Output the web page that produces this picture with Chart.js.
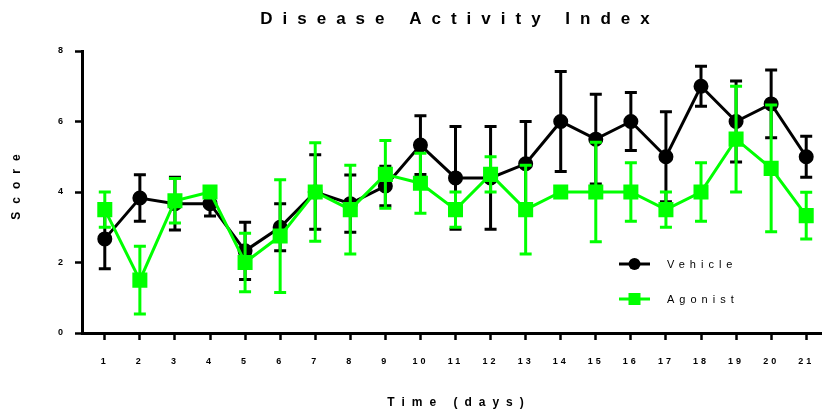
<!DOCTYPE html>
<html>
<head>
<meta charset="utf-8">
<script src="https://cdn.jsdelivr.net/npm/chart.js@4.4.0/dist/chart.umd.min.js"></script>
<style>
  html, body { margin: 0; padding: 0; background: #fff; }
  #wrap { width: 822px; height: 412px; }
</style>
</head>
<body>
<div id="wrap"><canvas id="chart"></canvas></div>
<script>
const days = [1, 2, 3, 4, 5, 6, 7, 8, 9, 10, 11, 12, 13, 14, 15, 16, 17, 18, 19, 20, 21];
const vehicleMean = [2.67, 3.83, 3.67, 3.67, 2.33, 3.0, 4.0, 3.67, 4.17, 5.33, 4.4, 4.4, 4.8, 6.0, 5.5, 6.0, 5.0, 7.0, 6.0, 6.5, 5.0];
const vehicleErr = [0.85, 0.66, 0.75, 0.35, 0.81, 0.67, 1.06, 0.81, 0.56, 0.83, 1.46, 1.46, 1.2, 1.42, 1.27, 0.82, 1.28, 0.57, 1.15, 0.96, 0.58];
const agonistMean = [3.5, 1.5, 3.75, 4.0, 2.0, 2.75, 4.0, 3.5, 4.5, 4.25, 3.5, 4.5, 3.5, 4.0, 4.0, 4.0, 3.5, 4.0, 5.5, 4.67, 3.33];
const agonistErr = [0.5, 0.96, 0.63, 0, 0.83, 1.6, 1.4, 1.26, 0.96, 0.85, 0.5, 0.5, 1.26, 0, 1.41, 0.83, 0.5, 0.83, 1.5, 1.8, 0.66];
const yTicks = [0, 2, 4, 6, 8];

const GREEN = '#00ff00';
const FONT = '"Liberation Sans", Arial, sans-serif';

// error bars drawn just under each dataset's line
const errorBars = {
    id: 'errorBars',
    beforeDatasetDraw(chart, args) {
        const ds = chart.data.datasets[args.index];
        const ctx = chart.ctx;
        const x = chart.scales.x, y = chart.scales.y;
        ctx.save();
        ctx.strokeStyle = ds.borderColor;
        ctx.lineWidth = 3;
        ds.data.forEach((p, i) => {
            const e = ds.errors[i];
            if (!e) return;
            const px = x.getPixelForValue(p.x);
            const top = y.getPixelForValue(p.y + e);
            const bot = y.getPixelForValue(p.y - e);
            ctx.beginPath();
            ctx.moveTo(px, top); ctx.lineTo(px, bot);
            ctx.moveTo(px - 6, top); ctx.lineTo(px + 6, top);
            ctx.moveTo(px - 6, bot); ctx.lineTo(px + 6, bot);
            ctx.stroke();
        });
        ctx.restore();
    }
};

// spaced-out titles and the legend
const spacedText = {
    id: 'spacedText',
    beforeDraw(chart) { chart.ctx.letterSpacing = '3px'; },
    afterDraw(chart) {
        const ctx = chart.ctx;
        ctx.save();
        ctx.fillStyle = '#000';
        ctx.textBaseline = 'middle';
        ctx.textAlign = 'center';

        ctx.letterSpacing = '10px';
        ctx.font = 'bold 17px ' + FONT;
        ctx.fillText('Disease Activity Index', 460, 19);

        ctx.letterSpacing = '7px';
        ctx.font = 'bold 12px ' + FONT;
        ctx.fillText('Time (days)', 459, 403);

        ctx.save();
        ctx.translate(17, 187);
        ctx.rotate(-Math.PI / 2);
        ctx.letterSpacing = '8px';
        ctx.fillText('Score', 4, 0);
        ctx.restore();

        // legend
        ctx.textAlign = 'left';
        ctx.letterSpacing = '5px';
        ctx.font = '11px ' + FONT;
        const rows = [
            { label: 'Vehicle', color: '#000', shape: 'circle', y: 264 },
            { label: 'Agonist', color: GREEN, shape: 'square', y: 299 }
        ];
        rows.forEach(r => {
            ctx.strokeStyle = r.color;
            ctx.fillStyle = r.color;
            ctx.lineWidth = 3;
            ctx.beginPath();
            ctx.moveTo(619, r.y); ctx.lineTo(650, r.y);
            ctx.stroke();
            ctx.beginPath();
            if (r.shape === 'circle') ctx.arc(634.5, r.y, 6, 0, Math.PI * 2);
            else ctx.rect(628.5, r.y - 6, 12, 12);
            ctx.fill();
            ctx.fillStyle = '#000';
            ctx.fillText(r.label, 667, r.y + 1);
        });
        ctx.restore();
    }
};

new Chart(document.getElementById('chart'), {
    type: 'line',
    data: {
        datasets: [
            {
                label: 'Vehicle',
                data: days.map((d, i) => ({ x: d, y: vehicleMean[i] })),
                errors: vehicleErr,
                borderColor: '#000',
                backgroundColor: '#000',
                borderWidth: 3,
                pointStyle: 'circle',
                pointRadius: 6,
                pointHoverRadius: 6,
                clip: false,
                order: 2
            },
            {
                label: 'Agonist',
                data: days.map((d, i) => ({ x: d, y: agonistMean[i] })),
                errors: agonistErr,
                borderColor: GREEN,
                backgroundColor: GREEN,
                borderWidth: 3,
                pointStyle: 'rect',
                pointRadius: 8.5,
                pointHoverRadius: 8.5,
                clip: false,
                order: 1
            }
        ]
    },
    options: {
        responsive: true,
        maintainAspectRatio: false,
        animation: false,
        layout: { autoPadding: false, padding: { top: 51, right: 0, left: 0, bottom: 0 } },
        plugins: {
            legend: { display: false },
            title: { display: false },
            tooltip: { enabled: false }
        },
        scales: {
            x: {
                type: 'linear',
                min: 0.35,
                max: 21.45,
                afterFit: s => { s.height = 79; s.paddingLeft = 0; s.paddingRight = 0; },
                afterBuildTicks: s => { s.ticks = days.map(v => ({ value: v })); },
                border: { color: '#000', width: 3 },
                grid: { drawOnChartArea: false, tickLength: 7, tickWidth: 2.5, tickColor: '#000' },
                ticks: {
                    color: '#000',
                    padding: 16,
                    maxRotation: 0,
                    autoSkip: false,
                    font: { family: FONT, size: 9, weight: 'bold' }
                }
            },
            y: {
                min: 0,
                max: 8,
                afterFit: s => { s.width = 82; s.paddingTop = 0; s.paddingBottom = 0; },
                afterBuildTicks: s => { s.ticks = yTicks.map(v => ({ value: v })); },
                border: { color: '#000', width: 3 },
                grid: { drawOnChartArea: false, tickLength: 7, tickWidth: 2.5, tickColor: '#000' },
                ticks: {
                    color: '#000',
                    padding: 9,
                    font: { family: FONT, size: 9, weight: 'bold' }
                }
            }
        }
    },
    plugins: [errorBars, spacedText]
});
</script>
</body>
</html>
